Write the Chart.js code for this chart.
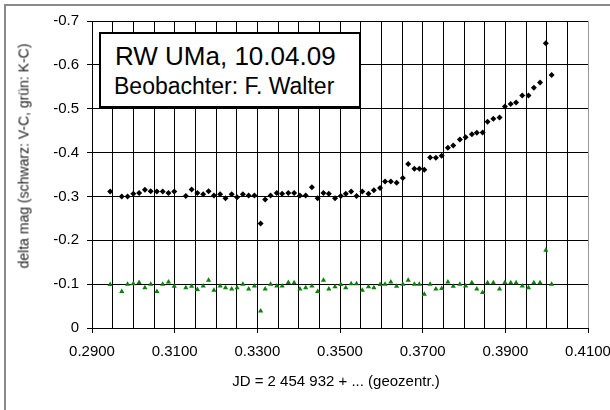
<!DOCTYPE html>
<html>
<head>
<meta charset="utf-8">
<script src="https://cdn.jsdelivr.net/npm/chart.js@4.4.0/dist/chart.umd.min.js"></script>
<style>
    html, body { margin: 0; padding: 0; background: #fff; }
    #wrap { position: relative; width: 610px; height: 410px; overflow: hidden; font-family: "Liberation Sans", Arial, sans-serif; color: #000; }
    #frame { position: absolute; left: 4px; top: 4px; width: 700px; height: 500px; border: 2px solid #8a8a8a; }
    #chart { position: absolute; left: 0; top: 0; }
    #note { position: absolute; left: 99px; top: 32px; width: 258px; height: 72px; border: 2px solid #000; background: #fff; }
    #note .l1 { position: absolute; left: 14px; top: 9px; font-size: 26px; line-height: 26px; white-space: nowrap; }
    #note .l2 { position: absolute; left: 13px; top: 41px; font-size: 23px; line-height: 23px; white-space: nowrap; }
    #ytitle { position: absolute; left: 24px; top: 156px; font-size: 14px; font-weight: normal; line-height: 15px; color: #222; white-space: nowrap; transform: translate(-50%, -50%) rotate(-90deg); }
    #xtitle { position: absolute; left: 336px; top: 373px; font-size: 15px; line-height: 15px; white-space: nowrap; transform: translateX(-50%); }
</style>
</head>
<body>
<div id="wrap">
    <div id="frame"></div>
    <canvas id="chart" width="610" height="410"></canvas>
    <div id="note">
        <div class="l1">RW UMa, 10.04.09</div>
        <div class="l2">Beobachter: F. Walter</div>
    </div>
    <div id="ytitle">delta mag (schwarz: V-C, grün: K-C)</div>
    <div id="xtitle">JD = 2 454 932 + ... (geozentr.)</div>
</div>
<script>
// Zeitpunkte (JD - 2454932, geozentrisch)
const jd = [
    0.2944, 0.2972, 0.2986, 0.3000, 0.3014, 0.3028, 0.3042, 0.3057, 0.3071, 0.3085, 0.3099,
    0.3127, 0.3141, 0.3155, 0.3169, 0.3182, 0.3195, 0.3210, 0.3223, 0.3238, 0.3251, 0.3265, 0.3279, 0.3293,
    0.3308, 0.3319,
    0.3332, 0.3347, 0.3360, 0.3375, 0.3389, 0.3403, 0.3417, 0.3432, 0.3446, 0.3460, 0.3473,
    0.3488, 0.3502, 0.3514, 0.3527, 0.3540, 0.3554, 0.3569, 0.3582, 0.3597, 0.3609, 0.3623, 0.3637,
    0.3652, 0.3665, 0.3680, 0.3692, 0.3704, 0.3718, 0.3732, 0.3746, 0.3761, 0.3774, 0.3790, 0.3804,
    0.3819, 0.3831, 0.3845, 0.3857, 0.3871, 0.3886, 0.3899, 0.3913, 0.3926, 0.3941, 0.3956, 0.3969,
    0.3984, 0.3998, 0.4012
];

// V-C (schwarz)
const vc = [
    -0.311, -0.300, -0.300, -0.306, -0.308, -0.315, -0.312, -0.311, -0.311, -0.308, -0.311,
    -0.301, -0.316, -0.308, -0.305, -0.312, -0.302, -0.305, -0.296, -0.305, -0.298, -0.305, -0.302, -0.302,
    -0.238, -0.293,
    -0.302, -0.308, -0.306, -0.308, -0.308, -0.302, -0.302, -0.321, -0.296, -0.308, -0.306,
    -0.296, -0.301, -0.306, -0.311, -0.301, -0.311, -0.306, -0.314, -0.319, -0.334, -0.334, -0.331,
    -0.342, -0.374, -0.363, -0.363, -0.361, -0.389, -0.388, -0.393, -0.411, -0.416, -0.430, -0.435,
    -0.442, -0.445, -0.446, -0.470, -0.477, -0.480, -0.505, -0.511, -0.514, -0.530, -0.530, -0.548,
    -0.560, -0.649, -0.577
];

// K-C (grün)
const kc = [
    -0.099, -0.083, -0.100, -0.101, -0.104, -0.092, -0.100, -0.083, -0.100, -0.105, -0.095,
    -0.092, -0.095, -0.088, -0.096, -0.109, -0.086, -0.096, -0.092, -0.089, -0.092, -0.100, -0.089, -0.096,
    -0.039, -0.089,
    -0.100, -0.096, -0.096, -0.104, -0.103, -0.089, -0.092, -0.096, -0.083, -0.109, -0.089,
    -0.094, -0.099, -0.092, -0.101, -0.101, -0.086, -0.094, -0.092, -0.099, -0.100, -0.105, -0.095,
    -0.100, -0.109, -0.100, -0.100, -0.077, -0.100, -0.089, -0.090, -0.105, -0.095, -0.100, -0.096,
    -0.103, -0.089, -0.081, -0.103, -0.103, -0.089, -0.104, -0.103, -0.103, -0.096, -0.092, -0.103,
    -0.103, -0.177, -0.100
];

// beschriftete Ticks der x-Achse
const xLabelled = [0.29, 0.31, 0.33, 0.35, 0.37, 0.39, 0.41];

const FONT = { family: '"Liberation Sans", Arial, sans-serif', size: 15 };

function xLabel(v) {
    const t = xLabelled.find(k => Math.abs(k - v) < 1e-6);
    return t === undefined ? '' : t.toFixed(4);
}

new Chart(document.getElementById('chart'), {
    type: 'scatter',
    data: {
        datasets: [
            {
                label: 'V-C',
                data: jd.map((x, i) => ({ x: x, y: vc[i] })),
                pointStyle: 'rectRot',
                pointRadius: 3,
                backgroundColor: '#000',
                borderColor: '#000',
                borderWidth: 0
            },
            {
                label: 'K-C',
                data: jd.map((x, i) => ({ x: x, y: kc[i] })),
                pointStyle: 'triangle',
                pointRadius: 3,
                backgroundColor: '#0a800a',
                borderColor: '#0a800a',
                borderWidth: 0
            }
        ]
    },
    options: {
        responsive: false,
        animation: false,
        events: [],
        layout: { padding: { left: 0, top: 21, right: 22, bottom: 0 } },
        plugins: { legend: { display: false }, tooltip: { enabled: false } },
        scales: {
            x: {
                type: 'linear',
                min: 0.29,
                max: 0.41,
                afterFit(s) { s.height = 82; s.paddingLeft = 0; s.paddingRight = 0; },
                ticks: {
                    stepSize: 0.005,
                    autoSkip: false,
                    maxRotation: 0,
                    minRotation: 0,
                    padding: 10,
                    color: '#000',
                    font: FONT,
                    callback: v => xLabel(v)
                },
                grid: {
                    color: ctx => (ctx.tick && Math.abs(ctx.tick.value - 0.41) < 1e-6) ? '#999' : '#000',
                    lineWidth: 1,
                    tickLength: 5,
                    tickColor: ctx => (ctx.tick && xLabel(ctx.tick.value) !== '') ? '#000' : 'rgba(0,0,0,0)'
                },
                border: { color: '#000' }
            },
            y: {
                min: -0.7,
                max: 0,
                reverse: true,
                afterFit(s) { s.width = 92; },
                ticks: {
                    stepSize: 0.1,
                    padding: 8,
                    color: '#000',
                    font: FONT,
                    callback: v => Math.abs(v) < 1e-9 ? '0' : v.toFixed(1)
                },
                grid: { color: '#000', lineWidth: 1, tickLength: 5 },
                border: { color: '#000' }
            }
        }
    }
});
</script>
</body>
</html>
